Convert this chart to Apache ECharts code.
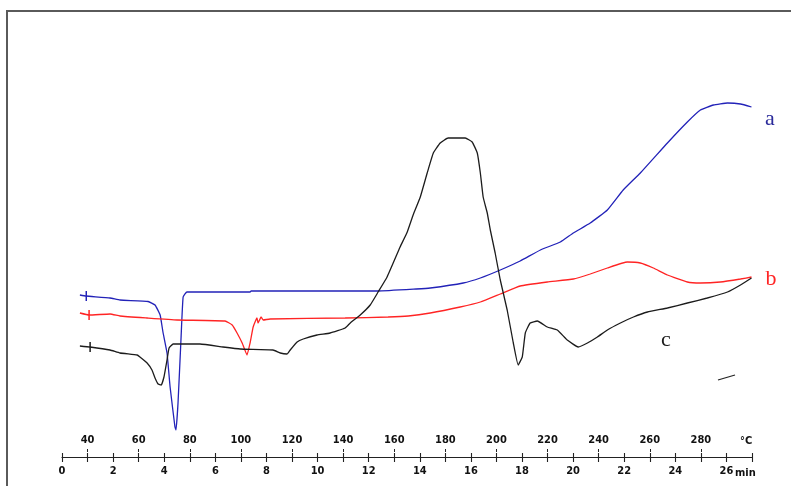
<!DOCTYPE html>
<html>
<head>
<meta charset="utf-8">
<script src="https://cdn.jsdelivr.net/npm/echarts@6/dist/echarts.min.js"></script>
<style>
  html, body { margin: 0; padding: 0; background: #fff; }
  #chart { width: 791px; height: 486px; }
</style>
</head>
<body>
<div id="chart"></div>
<script>
// tick labels
const tempLabels = [40, 60, 80, 100, 120, 140, 160, 180, 200, 220, 240, 260, 280]
const timeLabels = [0, 2, 4, 6, 8, 10, 12, 14, 16, 18, 20, 22, 24, 26]

// curve a (blue): temperature (°C) / heat flow (arb. units)
const aTemp = [37.0, 39.4, 48.8, 52.7, 63.7, 66.4, 68.4, 69.5, 71.1, 72.3, 74.2, 74.6, 75.4, 76.6, 77.4, 78.9, 103.6, 104.0, 123.2, 153.7, 168.6, 174.1, 187.0, 193.7, 201.5, 209.3, 217.2, 225.0, 230.1, 236.7, 243.4, 249.6, 256.3, 266.9, 274.7, 279.8, 284.9, 290.4, 295.5, 299.8]
const aHeat = [16.2, 16.1, 15.9, 15.7, 15.55, 15.2, 14.2, 12.5, 10.4, 7.0, 3.0, 2.7, 5.4, 12.0, 16.0, 16.5, 16.5, 16.6, 16.6, 16.6, 16.8, 16.9, 17.4, 17.9, 18.7, 19.6, 20.7, 21.5, 22.4, 23.4, 24.7, 26.7, 28.4, 31.4, 33.5, 34.7, 35.2, 35.4, 35.3, 35.0]

// curve b (red)
const bTemp = [37.0, 40.6, 48.8, 52.7, 63.3, 75.0, 93.8, 96.6, 98.5, 100.5, 102.4, 103.6, 104.8, 106.3, 106.7, 107.9, 108.7, 111.4, 140.8, 157.6, 165.5, 174.1, 185.8, 193.7, 201.5, 209.3, 219.9, 230.1, 236.7, 243.4, 251.2, 256.3, 261.4, 266.9, 274.7, 279.8, 287.6, 295.5, 299.8]
const bHeat = [14.4, 14.2, 14.3, 14.1, 13.9, 13.7, 13.6, 13.2, 12.4, 11.4, 10.2, 11.4, 13.0, 13.9, 13.4, 14.0, 13.7, 13.8, 13.9, 14.0, 14.1, 14.4, 15.0, 15.5, 16.3, 17.1, 17.5, 17.8, 18.3, 18.9, 19.5, 19.4, 18.9, 18.2, 17.5, 17.4, 17.5, 17.8, 18.0]

// curve c (black)
const cTemp = [37.0, 41.0, 48.8, 52.7, 59.4, 60.5, 63.3, 65.2, 66.4, 67.6, 68.8, 69.9, 71.1, 71.9, 73.5, 77.4, 84.0, 93.0, 99.7, 112.6, 115.4, 118.1, 119.3, 122.0, 124.4, 129.8, 134.9, 140.8, 142.8, 146.7, 150.6, 153.7, 157.2, 162.3, 165.1, 167.4, 170.2, 172.9, 175.3, 178.0, 181.1, 187.8, 190.5, 192.5, 193.7, 194.8, 196.4, 197.6, 199.5, 201.5, 204.2, 206.6, 208.5, 210.1, 211.3, 213.2, 216.0, 219.9, 223.8, 227.7, 232.0, 235.6, 239.5, 243.4, 248.5, 253.6, 259.1, 266.9, 274.7, 282.5, 290.4, 295.5, 299.8]
const cHeat = [11.1, 11.0, 10.7, 10.4, 10.2, 10.0, 9.4, 8.7, 7.9, 7.3, 7.2, 8.0, 9.7, 10.9, 11.3, 11.3, 11.3, 11.0, 10.8, 10.7, 10.4, 10.3, 10.7, 11.5, 11.8, 12.2, 12.4, 12.9, 13.4, 14.2, 15.2, 16.5, 18.0, 21.0, 22.5, 24.2, 26.0, 28.4, 30.4, 31.4, 31.9, 31.9, 31.5, 30.4, 28.4, 26.0, 24.4, 22.7, 20.4, 17.7, 14.7, 11.4, 9.2, 10.0, 12.4, 13.4, 13.6, 13.0, 12.7, 11.7, 11.0, 11.4, 12.0, 12.7, 13.4, 14.0, 14.5, 14.9, 15.4, 15.9, 16.5, 17.2, 17.9]

// start markers (the little crosses near 40 °C)
const startMarks = [[39.5, 16.1], [40.6, 14.2], [41.0, 11.0]]

const zip = (xs, ys) => xs.map((x, i) => [x, ys[i]])

const axisFont = {
  fontFamily: '"Liberation Sans Narrow", "DejaVu Sans Condensed", sans-serif',
  fontWeight: 'bold',
  fontSize: 11,
  color: '#111'
}
const ink = '#222'

const chart = echarts.init(document.getElementById('chart'), null, { renderer: 'canvas' })

const curve = (name, data, color, mark) => ({
  name,
  type: 'line',
  xAxisIndex: 0,
  data,
  showSymbol: false,
  smooth: 0.12,
  lineStyle: { color, width: 1.3 },
  itemStyle: { color },
  silent: true,
  markPoint: {
    symbol: 'rect',
    symbolSize: [1.5, 10],
    silent: true,
    label: { show: false },
    itemStyle: { color },
    data: [{ coord: mark }]
  }
})

chart.setOption({
  animation: false,
  backgroundColor: '#fff',
  grid: { left: 62, right: 39, top: 11, bottom: 29, outerBoundsMode: 'none' },
  xAxis: [
    {
      // temperature scale, labels above the line
      type: 'value',
      min: 30,
      max: 300,
      position: 'bottom',
      axisLine: { onZero: false, lineStyle: { color: ink, width: 1.2 } },
      axisTick: { inside: true, length: 8, customValues: tempLabels, lineStyle: { color: ink, type: [3, 2] } },
      axisLabel: { inside: true, margin: 11, customValues: tempLabels, ...axisFont },
      splitLine: { show: false },
      name: '°C',
      nameLocation: 'end',
      nameGap: -12,
      nameMoveOverlap: false,
      nameTextStyle: { ...axisFont, verticalAlign: 'bottom', lineHeight: 31 }
    },
    {
      // time scale, labels below the line
      type: 'value',
      min: 0,
      max: 27,
      interval: 1,
      position: 'bottom',
      axisLine: { show: false },
      axisTick: { length: 5, lineStyle: { color: ink, width: 1.1 } },
      axisLabel: { margin: 9, customValues: timeLabels, ...axisFont },
      splitLine: { show: false },
      name: 'min',
      nameLocation: 'end',
      nameGap: -17,
      nameMoveOverlap: false,
      nameTextStyle: { ...axisFont, verticalAlign: 'top', lineHeight: 32 }
    },
    {
      // upper half of the time ticks
      type: 'value',
      min: 0,
      max: 27,
      interval: 1,
      position: 'bottom',
      axisLine: { show: false },
      axisTick: { inside: true, length: 4, lineStyle: { color: ink, width: 1.1 } },
      axisLabel: { show: false },
      splitLine: { show: false }
    }
  ],
  yAxis: { type: 'value', min: 0, max: 44.6, show: false },
  series: [
    curve('a', zip(aTemp, aHeat), '#2222b8', startMarks[0]),
    curve('b', zip(bTemp, bHeat), '#ff2424', startMarks[1]),
    curve('c', zip(cTemp, cHeat), '#1c1c1c', startMarks[2])
  ],
  graphic: [
    { type: 'rect', silent: true, shape: { x: 7, y: 11, width: 800, height: 490 }, style: { fill: 'none', stroke: '#5a5a5a', lineWidth: 2 } },
    { type: 'line', silent: true, shape: { x1: 718, y1: 380, x2: 735, y2: 375 }, style: { stroke: ink, lineWidth: 1.2 } },
    { type: 'text', silent: true, style: { x: 770, y: 119, text: 'a', fill: '#2a2a9a', font: '22px "Liberation Serif", serif', align: 'center', verticalAlign: 'middle' } },
    { type: 'text', silent: true, style: { x: 771, y: 279, text: 'b', fill: '#ff2424', font: '22px "Liberation Serif", serif', align: 'center', verticalAlign: 'middle' } },
    { type: 'text', silent: true, style: { x: 666, y: 340, text: 'c', fill: '#1c1c1c', font: '22px "Liberation Serif", serif', align: 'center', verticalAlign: 'middle' } }
  ]
})
</script>
</body>
</html>
